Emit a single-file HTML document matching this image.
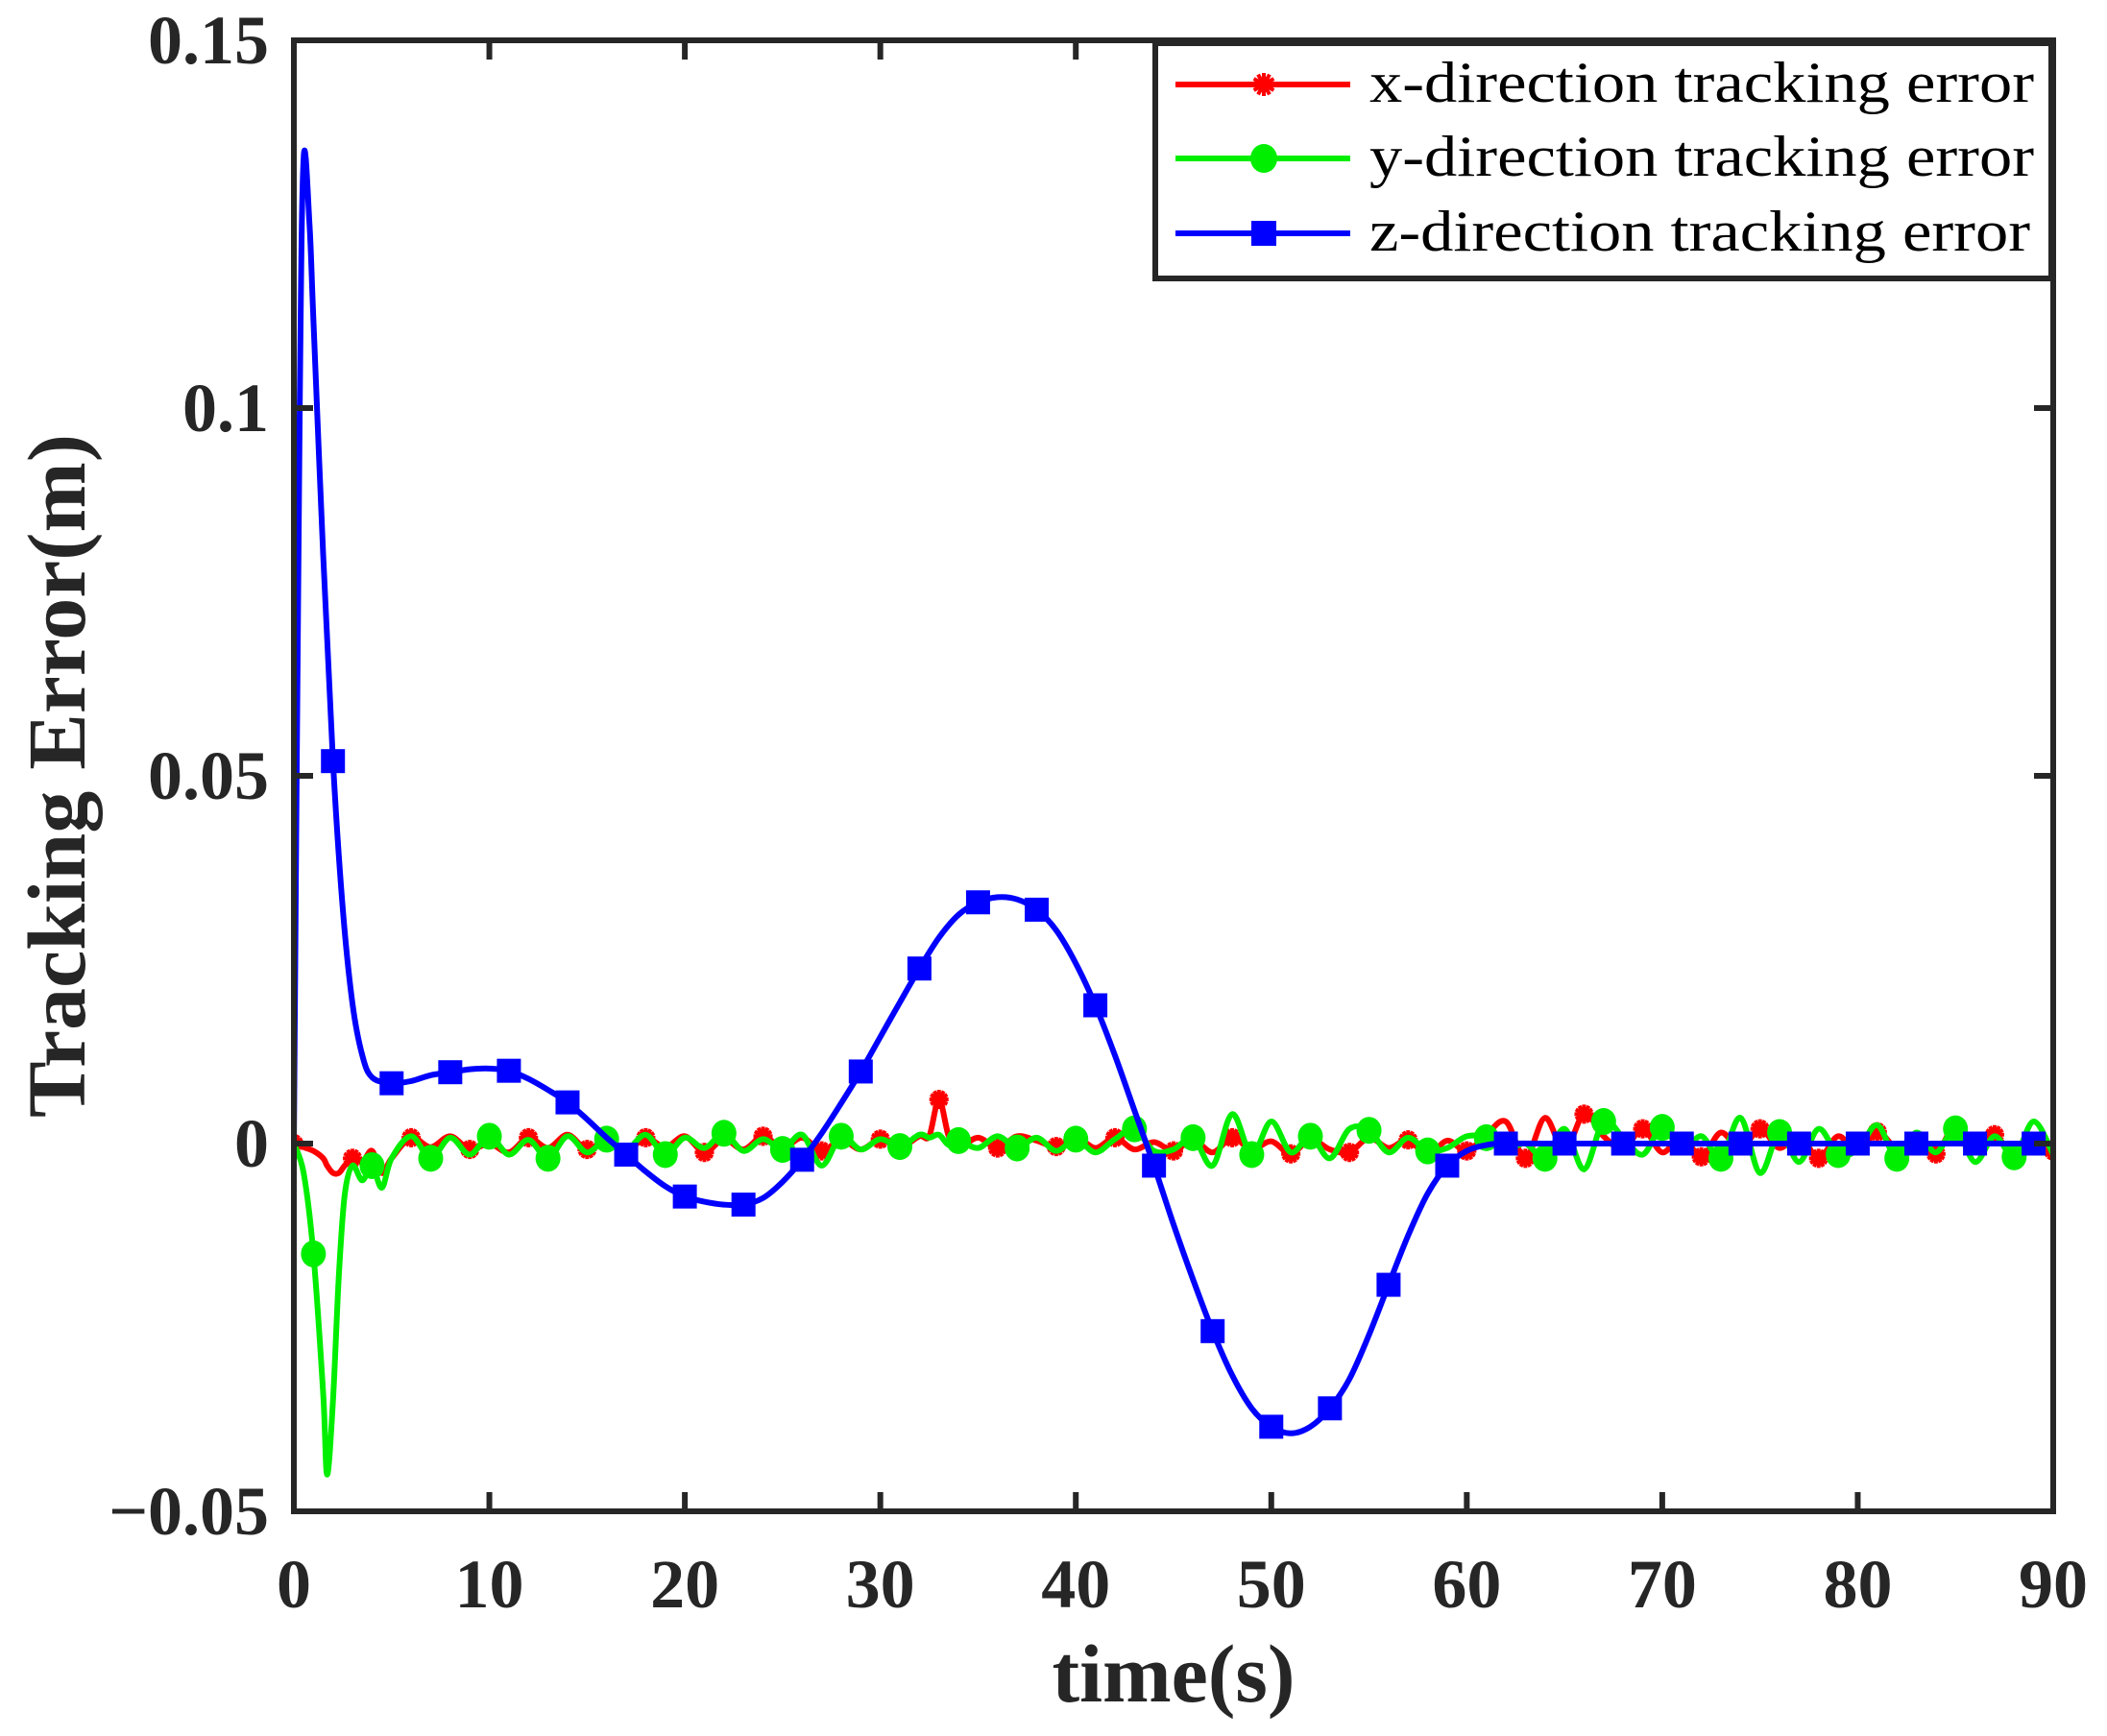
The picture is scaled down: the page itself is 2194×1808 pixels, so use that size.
<!DOCTYPE html>
<html><head><meta charset="utf-8"><style>
html,body{margin:0;padding:0;background:#fff;}
svg{display:block;}
</style></head><body>
<svg id="chart" width="2194" height="1808" viewBox="0 0 2194 1808" xmlns="http://www.w3.org/2000/svg"></svg>
<script>
// ---- data ----
const zTimes = [0,0.3,0.5,0.8,1,1.5,2,2.5,3,3.5,4,5,6,7,8,9,10,11,12,13,14,15,16,17,18,19,20,21,22,23,24,25,26,27,28,29,30,31,32,33,34,35,36,37,38,39,40,41,42,43,44,45,46,47,48,49,50,51,52,53,54,55,56,57,58,59,60,61,62,65,68,71,74,77,80,83,86,89,90];
const zValues = [0,0.1,0.134,0.125,0.112,0.08,0.052,0.032,0.019,0.012,0.009,0.0082,0.0085,0.0093,0.0097,0.0101,0.0102,0.0099,0.0088,0.0073,0.0056,0.0033,0.0008,-0.0015,-0.0038,-0.0058,-0.0072,-0.0079,-0.0083,-0.0083,-0.0074,-0.0052,-0.0022,0.0014,0.0055,0.0098,0.0145,0.0192,0.0238,0.0280,0.0311,0.0328,0.0335,0.0332,0.0318,0.0290,0.0245,0.0188,0.0120,0.0045,-0.0030,-0.0110,-0.0185,-0.0255,-0.0315,-0.0360,-0.0385,-0.0394,-0.0385,-0.0360,-0.0320,-0.0260,-0.0192,-0.0125,-0.0068,-0.0030,-0.0010,-0.0002,0,0,0,0,0,0,0,0,0,0,0];
const zMarkerTimes = [2,5,8,11,14,17,20,23,26,29,32,35,38,41,44,47,50,53,56,59,62,65,68,71,74,77,80,83,86,89];

const xyTimes = [0,0.5,1,1.5,1.7,2,2.3,2.6,3,3.5,4,4.5,5,6,7,8,9,10,11,12,13,14,15,16,17,18,19,20,21,22,23,24,25,26,27,28,29,30,31,32,32.5,33,33.5,34,35,36,37,38,39,40,41,42,43,44,45,46,47,48,49,50,51,52,53,54,55,56,57,58,59,60,61,62,63,64,65,66,67,68,69,70,71,72,73,74,75,76,77,78,79,80,81,82,83,84,85,86,87,88,89,90];
const xValues = [0,-0.0005,-0.001,-0.002,-0.003,-0.004,-0.004,-0.003,-0.002,-0.0025,-0.001,-0.004,-0.002,0.0008,-0.0005,0.001,-0.0008,0.0,-0.0012,0.0008,-0.0006,0.0012,-0.0008,0.0005,-0.001,0.0008,-0.0005,0.001,-0.0012,0.0006,-0.0008,0.001,-0.0006,0.0008,-0.001,0.0005,-0.0008,0.0006,-0.0005,0.001,0.001,0.006,0.001,-0.0005,0.0008,-0.0006,0.001,0.0004,-0.0004,0.0009,-0.0006,0.0008,-0.0008,0.0002,-0.001,0.0005,-0.0012,0.0008,-0.0008,0.0003,-0.0014,0.0006,-0.0008,-0.0012,0.0008,-0.0006,0.0005,-0.0016,0.0004,-0.001,0.0012,0.003,-0.002,0.0035,-0.001,0.004,0.001,-0.0008,0.002,-0.0012,0.001,-0.0018,0.0015,-0.0008,0.002,-0.0006,0.0012,-0.002,0.001,-0.0012,0.0016,-0.0006,0.001,-0.0014,0.0025,-0.001,0.0012,-0.0018,0.0008,-0.001,-0.0006];
const yValues = [0,-0.004,-0.015,-0.034,-0.045,-0.035,-0.018,-0.007,-0.003,-0.005,-0.003,-0.006,-0.002,0.001,-0.002,0.0008,-0.0015,0.001,-0.0015,0.0005,-0.002,0.001,-0.0012,0.0006,-0.0008,0.0012,-0.0015,0.0008,-0.0006,0.0014,-0.001,0.0006,-0.0008,0.0012,-0.003,0.001,-0.0008,0.0006,-0.0004,0.0012,0.0008,0.0012,-0.0002,0.0004,-0.0006,0.001,-0.0006,0.0008,-0.001,0.0006,-0.0012,0.0006,0.002,-0.001,-0.0008,0.0008,-0.003,0.004,-0.0015,0.003,-0.0012,0.001,-0.002,0.002,0.0018,-0.0012,0.0008,-0.001,-0.0006,0.001,0.0008,-0.0008,0.0,-0.002,0.002,-0.0035,0.003,0.0008,-0.0015,0.0022,-0.001,0.001,-0.002,0.0035,-0.004,0.0015,-0.0025,0.002,-0.0015,-0.0008,0.0025,-0.002,0.0015,-0.0012,0.002,-0.0025,0.001,-0.0018,0.003,-0.0015,-0.0012];
const xMarkerTimes = [0,3,6,9,12,15,18,21,24,27,30,33,36,39,42,45,48,51,54,57,60,63,66,69,72,75,78,81,84,87,90];
const yMarkerTimes = [1,4,7,10,13,16,19,22,25,28,31,34,37,40,43,46,49,52,55,58,61,64,67,70,73,76,79,82,85,88];
const xTickValues = [0,10,20,30,40,50,60,70,80,90];
const yTickValues = [-0.05,0,0.05,0.1,0.15];
const yTickLabels = ["\u22120.05","0","0.05","0.1","0.15"];
const legendLabels = ["x-direction tracking error","y-direction tracking error","z-direction tracking error"];

// ---- layout ----
const L=306,R=2138,T=42,B=1574;
const X=t=>L+(t/90)*(R-L);
const Y=v=>T+(0.15-v)/0.2*(B-T);
const NS="http://www.w3.org/2000/svg";
const svg=document.getElementById('chart');
function mk(tag,attrs,parent){const e=document.createElementNS(NS,tag);for(const k in attrs)e.setAttribute(k,attrs[k]);(parent||svg).appendChild(e);return e;}
function interp(ts,vs,t){for(let i=0;i<ts.length-1;i++){if(t>=ts[i]&&t<=ts[i+1]){const f=(t-ts[i])/(ts[i+1]-ts[i]);return vs[i]+f*(vs[i+1]-vs[i]);}}return vs[vs.length-1];}
function smoothPath(ts,vs){
  const p=ts.map((t,i)=>[X(t),Y(vs[i])]);
  let d=`M${p[0][0]},${p[0][1]}`;
  for(let i=0;i<p.length-1;i++){
    const p0=p[Math.max(0,i-1)],p1=p[i],p2=p[i+1],p3=p[Math.min(p.length-1,i+2)];
    const c1=[p1[0]+(p2[0]-p0[0])/6,p1[1]+(p2[1]-p0[1])/6];
    const c2=[p2[0]-(p3[0]-p1[0])/6,p2[1]-(p3[1]-p1[1])/6];
    d+=` C${c1[0]},${c1[1]} ${c2[0]},${c2[1]} ${p2[0]},${p2[1]}`;
  }
  return d;
}
function asterisk(g,cx,cy,r,color){
  let d='';
  for(let a=0;a<180;a+=30){const rad=a*Math.PI/180;d+=`M${cx-r*Math.cos(rad)},${cy-r*Math.sin(rad)}L${cx+r*Math.cos(rad)},${cy+r*Math.sin(rad)}`;}
  return mk('path',{d:d,stroke:color,'stroke-width':4,fill:'none'},g);
}

mk('rect',{x:0,y:0,width:2194,height:1808,fill:'#fff'});

const defs=mk('defs',{});
const cp=mk('clipPath',{id:'plotclip'},defs);
mk('rect',{x:L,y:T,width:R-L,height:B-T},cp);

// ---- series ----
const gx=mk('g',{'clip-path':'url(#plotclip)'});


mk('path',{d:smoothPath(xyTimes,xValues),stroke:'#ff0000','stroke-width':6,fill:'none'},gx);
xMarkerTimes.forEach(t=>{const m=asterisk(gx,X(t),Y(interp(xyTimes,xValues,t)),10,'#ff0000');

});

const gy=mk('g',{'clip-path':'url(#plotclip)'});


mk('path',{d:smoothPath(xyTimes,yValues),stroke:'#00ee00','stroke-width':6,fill:'none'},gy);
yMarkerTimes.forEach(t=>{const m=mk('ellipse',{cx:X(t),cy:Y(interp(xyTimes,yValues,t)),rx:13,ry:14,fill:'#00ee00'},gy);

});

const gz=mk('g',{'clip-path':'url(#plotclip)'});


mk('path',{d:smoothPath(zTimes,zValues),stroke:'#0000ff','stroke-width':6,fill:'none'},gz);
zMarkerTimes.forEach(t=>{const m=mk('rect',{x:X(t)-12.5,y:Y(interp(zTimes,zValues,t))-12.5,width:25,height:25,fill:'#0000ff'},gz);

});

// ---- axes ----
const ax=mk('g',{});


mk('rect',{x:L,y:T,width:R-L,height:B-T,fill:'none',stroke:'#262626','stroke-width':6},ax);
xTickValues.forEach(v=>{
  mk('line',{x1:X(v),y1:B,x2:X(v),y2:B-20,stroke:'#262626','stroke-width':6},ax);
  mk('line',{x1:X(v),y1:T,x2:X(v),y2:T+20,stroke:'#262626','stroke-width':6},ax);
  const t=mk('text',{x:X(v),y:1674,'text-anchor':'middle','font-family':'Liberation Serif, serif','font-weight':'bold','font-size':72,fill:'#262626'});
  t.textContent=v;
  
  
});
yTickValues.forEach((v,i)=>{
  mk('line',{x1:L,y1:Y(v),x2:L+20,y2:Y(v),stroke:'#262626','stroke-width':6},ax);
  mk('line',{x1:R,y1:Y(v),x2:R-20,y2:Y(v),stroke:'#262626','stroke-width':6},ax);
  const t=mk('text',{x:280,y:Y(v)+24,'text-anchor':'end','font-family':'Liberation Serif, serif','font-weight':'bold','font-size':72,fill:'#262626'});
  t.textContent=yTickLabels[i];
  
  
});
const xt=mk('text',{x:1222,y:1772,'text-anchor':'middle','font-family':'Liberation Serif, serif','font-weight':'bold','font-size':86,fill:'#262626'});
xt.textContent='time(s)';


const yt=mk('text',{x:0,y:0,'text-anchor':'middle','font-family':'Liberation Serif, serif','font-weight':'bold','font-size':86,fill:'#262626',transform:'translate(88,808) rotate(-90)',textLength:712,lengthAdjust:'spacingAndGlyphs'});
yt.textContent='Tracking Error(m)';



// ---- legend ----
const lg=mk('g',{});


mk('rect',{x:1203,y:45,width:933,height:245,fill:'#fff',stroke:'#262626','stroke-width':6},lg);
const rowsY=[88,165,243];
const colors=['#ff0000','#00ee00','#0000ff'];
legendLabels.forEach((lab,i)=>{
  const e=mk('g',{},lg);
  
  
  mk('line',{x1:1224,y1:rowsY[i],x2:1406,y2:rowsY[i],stroke:colors[i],'stroke-width':6},e);
  if(i===0) asterisk(e,1316,rowsY[i],12,colors[i]);
  if(i===1) mk('ellipse',{cx:1316,cy:rowsY[i],rx:14,ry:15,fill:colors[i]},e);
  if(i===2) mk('rect',{x:1303,y:rowsY[i]-13,width:26,height:26,fill:colors[i]},e);
  const t=mk('text',{x:1426,y:rowsY[i]+18,'font-family':'Liberation Serif, serif','font-size':60,fill:'#000',textLength:i===2?688:692,lengthAdjust:'spacingAndGlyphs'},e);
  t.textContent=lab;
});
</script>
</body></html>
